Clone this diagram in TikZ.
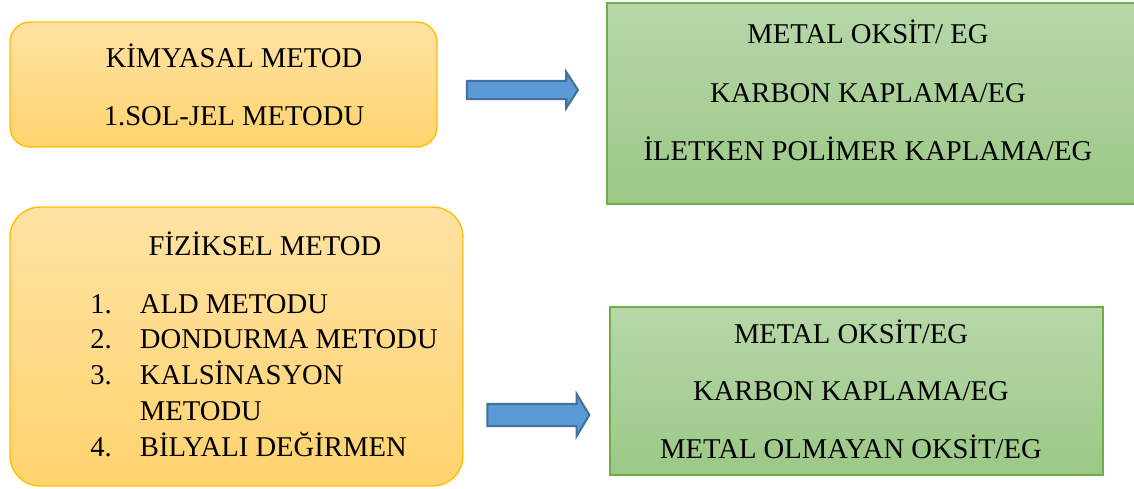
\documentclass[tikz,border=0pt]{standalone}
\usepackage{fontspec}
\setmainfont{Liberation Serif}
\usetikzlibrary{shapes.arrows}

\definecolor{orangetop}{HTML}{FFE2A3}
\definecolor{orangebot}{HTML}{FFD36E}
\definecolor{orangeline}{HTML}{FFC000}
\definecolor{greentop}{HTML}{B7D7A9}
\definecolor{greenbot}{HTML}{9CC886}
\definecolor{greenline}{HTML}{70AD47}
\definecolor{arrowfill}{HTML}{5B9BD5}
\definecolor{arrowline}{HTML}{41719C}

\tikzset{
  methodbox/.style={draw=orangeline, line width=0.8pt, top color=orangetop, bottom color=orangebot, inner sep=0pt},
  resultbox/.style={draw=greenline, line width=1.1pt, top color=greentop, bottom color=greenbot, inner sep=0pt},
  blockarrow/.style={single arrow, draw=arrowline, line width=1.2pt, fill=arrowfill, inner xsep=0pt, single arrow head indent=0pt},
  label/.style={anchor=base, inner sep=0pt, font=\fontsize{16.3}{20.4}\selectfont}
}

\begin{document}
\begin{tikzpicture}[x=0.02cm, y=-0.02cm]
\useasboundingbox (0,0) rectangle (1134,488);

% boxes
\node[methodbox, rounded corners=0.4cm, minimum width=8.54cm, minimum height=2.5cm] (kim) at (223.5, 84.5) {};
\node[resultbox, minimum width=10.6cm, minimum height=4.02cm] (res1) at (872, 103.5) {};
\node[methodbox, rounded corners=0.6cm, minimum width=9.06cm, minimum height=5.58cm] (fiz) at (236.5, 346.5) {};
\node[resultbox, minimum width=9.86cm, minimum height=3.36cm] (res2) at (856.5, 391) {};

% arrows
\node[blockarrow, minimum height=2.22cm, inner ysep=0.16cm, single arrow head extend=0.18cm, single arrow tip angle=114] (ar1) at (519.5, 90) {};
\node[blockarrow, minimum height=2.04cm, inner ysep=0.2cm, single arrow head extend=0.2cm, single arrow tip angle=118] (ar2) at (535, 415) {};

% texts
\node[label] (kim1) at (234, 67) {KİMYASAL METOD};
\node[label] (kim2) at (234, 125) {1.SOL-JEL METODU};

\node[label] (res11) at (868, 43) {METAL OKSİT/ EG};
\node[label] (res12) at (868, 102) {KARBON KAPLAMA/EG};
\node[label] (res13) at (868, 160) {İLETKEN POLİMER KAPLAMA/EG};

\node[label] (fiz1) at (265, 255) {FİZİKSEL METOD};
\node[label, anchor=base west] (fizlist) at (90, 313) {%
  \begin{tabular}[t]{@{}l@{\hspace{16pt}}l@{}}
  1. & ALD METODU\\
  2. & DONDURMA METODU\\
  3. & KALSİNASYON\\
     & METODU\\
  4. & BİLYALI DEĞİRMEN
  \end{tabular}};

\node[label] (res21) at (851, 343) {METAL OKSİT/EG};
\node[label] (res22) at (851, 400) {KARBON KAPLAMA/EG};
\node[label] (res23) at (851, 458) {METAL OLMAYAN OKSİT/EG};

\end{tikzpicture}
\end{document}
